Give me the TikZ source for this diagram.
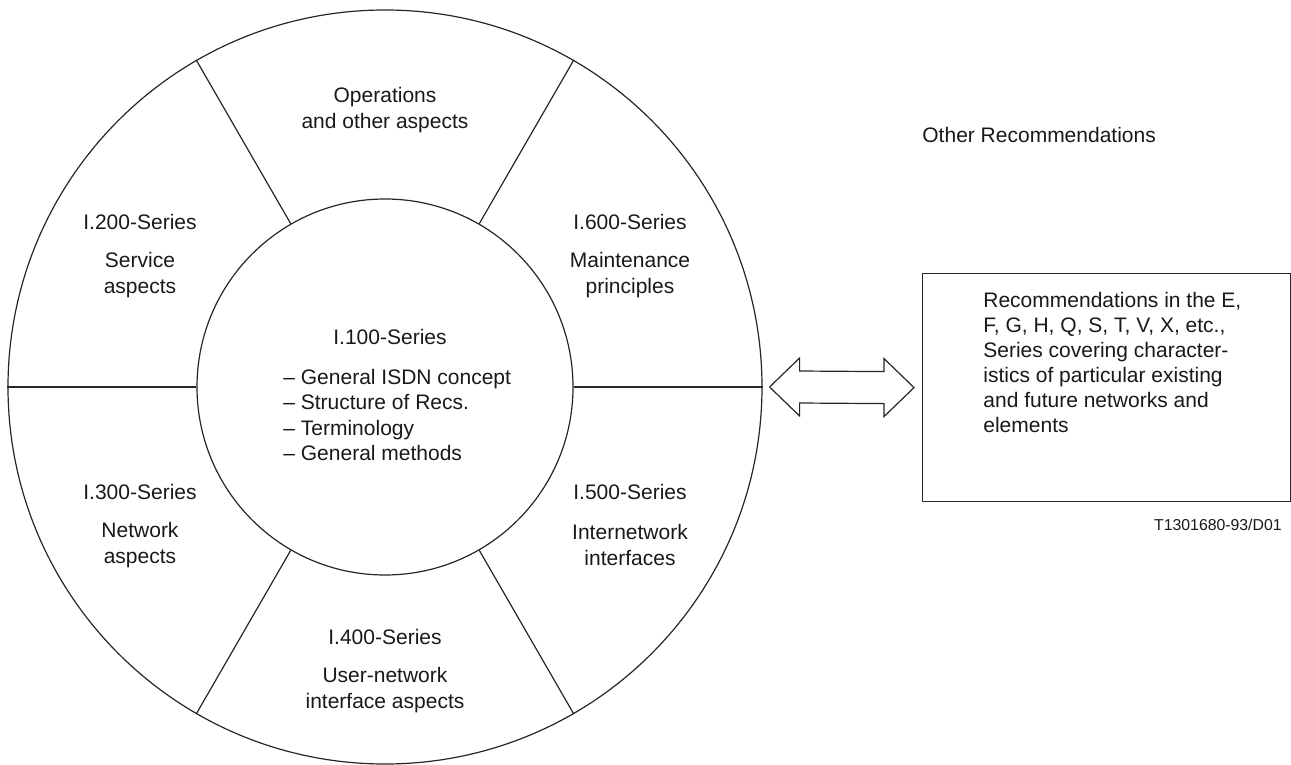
\documentclass[tikz,border=0pt]{standalone}
\usepackage{fontspec}
\setmainfont{Liberation Sans}
\usetikzlibrary{calc}
\begin{document}
\begin{tikzpicture}[x=0.5pt,y=-0.5pt,
  lbl/.style={font=\fontsize{10.5}{13}\selectfont, inner sep=0pt, align=center, text=black!90},
  ln/.style={line width=0.6pt, draw=black!85}]
\useasboundingbox (0,0) rectangle (1291,765);
\coordinate (c) at (385,387);
\node[ln, draw, circle, minimum size=377pt, inner sep=0pt] (outer) at (c) {};
\node[ln, draw, circle, minimum size=188pt, inner sep=0pt] (inner) at (c) {};
\foreach \a in {0,60,120,180,240,300}
  \draw[ln] (inner.\a) -- (outer.\a);
% sector labels
\node[lbl] (ops) at (385,110) {Operations\\and other aspects};
\node[lbl] (t200) at (140,222) {I.200-Series};
\node[lbl] (d200) at (140,275) {Service\\aspects};
\node[lbl] (t600) at (630,222) {I.600-Series};
\node[lbl] (d600) at (630,275) {Maintenance\\principles};
\node[lbl] (t300) at (140,492) {I.300-Series};
\node[lbl] (d300) at (140,545) {Network\\aspects};
\node[lbl] (t500) at (630,492) {I.500-Series};
\node[lbl] (d500) at (630,545) {Internetwork\\interfaces};
\node[lbl] (t400) at (385,637) {I.400-Series};
\node[lbl] (d400) at (385,690) {User-network\\interface aspects};
% centre
\node[lbl] (t100) at (390,337) {I.100-Series};
\node[lbl, align=left, anchor=west, font=\fontsize{10.5}{12.75}\selectfont] (d100) at (283,415)
  {– General ISDN concept\\– Structure of Recs.\\– Terminology\\– General methods};
% right box
\node[ln, draw, minimum width=184pt, minimum height=114pt, inner sep=0pt, anchor=north west] (box) at (922,273) {};
\node[lbl, align=left, anchor=north west, font=\fontsize{10.5}{12.5}\selectfont] (boxtxt) at (983,292)
  {Recommendations in the E,\\F, G, H, Q, S, T, V, X, etc.,\\Series covering character-\\istics of particular existing\\and future networks and\\elements};
\node[lbl, anchor=west] (other) at (922,135) {Other Recommendations};
\node[lbl, anchor=east, font=\fontsize{7.9}{9}\selectfont] (ref) at (1282,525) {T1301680-93/D01};
% double arrow
\coordinate (L) at ($(outer.east)+(7,0)$);
\coordinate (R) at ($(box.west)+(-8,0)$);
\draw[ln] (L) -- ++(30,-29) -- ++(0,13) -- ($(R)+(-30,-16)$) -- ++(0,-13) -- (R)
  -- ++(-30,29) -- ++(0,-13) -- ($(L)+(30,16)$) -- ++(0,13) -- cycle;
\end{tikzpicture}
\end{document}
